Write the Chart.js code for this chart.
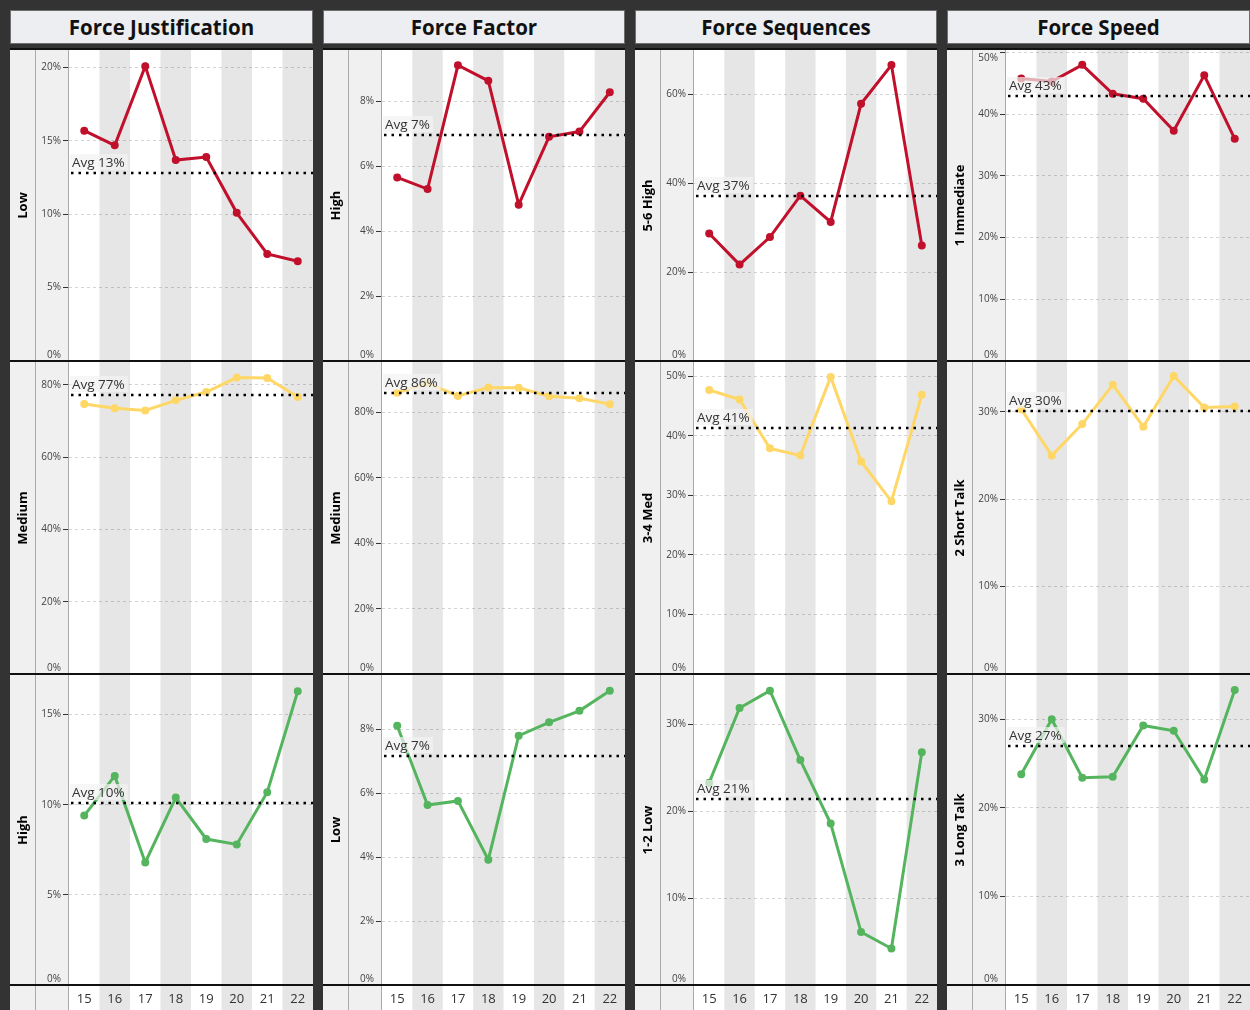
<!DOCTYPE html>
<html>
<head>
<meta charset="utf-8">
<title>Force trends by year</title>
<script src="https://cdn.jsdelivr.net/npm/chart.js@4.4.1/dist/chart.umd.min.js"></script>
<style>
  html, body { margin: 0; padding: 0; }
  body { width: 1250px; height: 1010px; background: #333; position: relative; overflow: hidden; }
  .head {
    position: absolute; top: 10px; height: 34px; box-sizing: border-box;
    background: #eceef1; border: 1px solid #6e6e6e; color: #111;
    font: 700 20.5px "Open Sans", "Noto Sans", sans-serif; line-height: 32px; text-align: center;
  }
  canvas { position: absolute; display: block; }
</style>
</head>
<body>
<script>
// ── Data ──────────────────────────────────────────────────────────────────────
const YEARS   = ["15", "16", "17", "18", "19", "20", "21", "22"];
const COLUMNS = ["Force Justification", "Force Factor", "Force Sequences", "Force Speed"];

// Force Justification (share of incidents, %)
const justLow    = [15.7, 14.7, 20.1, 13.7, 13.9, 10.1, 7.3, 6.8];
const justMedium = [74.7, 73.5, 72.9, 75.7, 78.0, 82.0, 81.9, 76.6];
const justHigh   = [9.4, 11.6, 6.8, 10.4, 8.1, 7.8, 10.7, 16.3];

// Force Factor
const factorHigh   = [5.65, 5.29, 9.10, 8.62, 4.81, 6.90, 7.06, 8.27];
const factorMedium = [86.1, 89.0, 85.1, 87.7, 87.6, 85.0, 84.4, 82.6];
const factorLow    = [8.11, 5.63, 5.76, 3.92, 7.80, 8.22, 8.58, 9.21];

// Force Sequences
const seqHigh = [28.7, 21.7, 27.9, 37.2, 31.3, 57.9, 66.6, 26.0];
const seqMed  = [47.7, 46.1, 37.9, 36.7, 49.9, 35.7, 29.0, 46.9];
const seqLow  = [23.3, 31.9, 33.9, 25.9, 18.6, 6.1, 4.2, 26.8];

// Force Speed
const speedImmediate = [45.8, 45.3, 48.0, 43.3, 42.5, 37.3, 46.3, 36.0];
const speedShortTalk = [30.3, 25.0, 28.6, 33.1, 28.3, 34.1, 30.5, 30.6];
const speedLongTalk  = [23.8, 30.0, 23.4, 23.5, 29.3, 28.7, 23.2, 33.3];

// Averages shown as dotted reference lines (row order per column)
const justAvg   = [12.8, 77.3, 10.1];
const factorAvg = [6.95, 86.1, 7.15];
const seqAvg    = [37.2, 41.3, 21.4];
const speedAvg  = [43.0, 30.1, 27.0];

// Axis ranges and tick steps (row order per column)
const justMax   = [21.2, 86.3, 17.2];
const factorMax = [9.57, 95.5, 9.7];
const seqMax    = [70.0, 52.4, 35.7];
const speedMax  = [50.4, 35.7, 35.0];
const justStep   = [5, 20, 5];
const factorStep = [2, 20, 2];
const seqStep    = [20, 10, 10];
const speedStep  = [10, 10, 10];

const PANELS = [
  { rows: ["Low", "Medium", "High"],                      series: [justLow, justMedium, justHigh],                avg: justAvg,   max: justMax,   step: justStep },
  { rows: ["High", "Medium", "Low"],                      series: [factorHigh, factorMedium, factorLow],          avg: factorAvg, max: factorMax, step: factorStep },
  { rows: ["5-6 High", "3-4 Med", "1-2 Low"],             series: [seqHigh, seqMed, seqLow],                      avg: seqAvg,    max: seqMax,    step: seqStep },
  { rows: ["1 Immediate", "2 Short Talk", "3 Long Talk"], series: [speedImmediate, speedShortTalk, speedLongTalk], avg: speedAvg,  max: speedMax,  step: speedStep },
];

// ── Look ──────────────────────────────────────────────────────────────────────
const FONT       = '"Open Sans", "Noto Sans", sans-serif';
const ROW_COLORS = ["#c0102b", "#ffd766", "#55b55e"];
const COL_LEFT   = [10, 323, 635, 947];
const COL_WIDTH  = [303, 302, 302, 303];
// canvas top / height / padding for each row (row 3 also carries the year strip)
const ROW_BOX = [
  { top: 48,  height: 314, padTop: 2, padBottom: 1, showX: false },
  { top: 362, height: 313, padTop: 0, padBottom: 1, showX: false },
  { top: 675, height: 335, padTop: 0, padBottom: 0, showX: true  },
];

Chart.defaults.font.family = FONT;

// ── Panel decoration: stripes, side strips, average line, separators ─────────
const panelDecor = {
  id: "panelDecor",
  beforeDraw(chart) {
    const { ctx, chartArea: a, scales: { x } } = chart;
    const H = chart.height;
    const half = (x.getPixelForValue(1) - x.getPixelForValue(0)) / 2;
    ctx.save();
    ctx.fillStyle = "#f0f0f0";
    ctx.fillRect(0, 0, a.left, H);
    ctx.fillStyle = "#ffffff";
    ctx.fillRect(a.left, 0, chart.width - a.left, H);
    ctx.fillStyle = "#e6e6e6";
    YEARS.forEach((_, i) => {
      if (i % 2 === 1) {
        const cx = x.getPixelForValue(i);
        ctx.fillRect(cx - half, 0, half * 2, H);
      }
    });
    ctx.restore();
  },
  afterDatasetsDraw(chart, args, opts) {
    const { ctx, chartArea: a, scales: { y } } = chart;
    const py = Math.round(y.getPixelForValue(opts.avg));
    ctx.save();
    ctx.strokeStyle = "#000";
    ctx.lineWidth = 2.5;
    ctx.setLineDash([2.5, 5]);
    ctx.beginPath();
    ctx.moveTo(a.left + 2, py);
    ctx.lineTo(a.right, py);
    ctx.stroke();
    ctx.setLineDash([]);

    const text = `Avg ${Math.round(opts.avg)}%`;
    ctx.font = `13.5px ${FONT}`;
    const w = ctx.measureText(text).width;
    ctx.fillStyle = "rgba(242,242,242,0.7)";
    ctx.fillRect(a.left + 1, py - 19, w + 5, 16);
    ctx.fillStyle = "#333";
    ctx.textBaseline = "alphabetic";
    ctx.fillText(text, a.left + 3, py - 6);
    ctx.restore();
  },
  afterDraw(chart, args, opts) {
    const { ctx, chartArea: a } = chart;
    ctx.save();
    ctx.fillStyle = "#a9a9a9";
    ctx.fillRect(25, 0, 1, chart.height);
    ctx.fillRect(a.left - 1, 0, 1, chart.height);
    ctx.fillStyle = "#111";
    if (opts.topLine) ctx.fillRect(0, 0, chart.width, 2);
    ctx.fillRect(0, a.bottom - 1, chart.width, 2);
    ctx.restore();
  },
};

// Tick labels at the very edges are nudged inside the panel (blank line trick)
function tickLabel(v, max) {
  if (v === 0) return ["0%", ""];
  if ((max - v) / max < 0.02) return ["", `${v}%`];
  return `${v}%`;
}

// ── Build ─────────────────────────────────────────────────────────────────────
function makeChart(canvas, spec) {
  return new Chart(canvas, {
    type: "line",
    data: {
      labels: YEARS,
      datasets: [{
        data: spec.values,
        borderColor: spec.color,
        backgroundColor: spec.color,
        borderWidth: 3,
        pointRadius: 2.5,
        pointHoverRadius: 2.5,
        tension: 0,
      }],
    },
    options: {
      responsive: false,
      animation: false,
      devicePixelRatio: 1,
      layout: { autoPadding: false, padding: { top: spec.padTop, bottom: spec.padBottom, left: 0, right: 0 } },
      plugins: {
        legend: { display: false },
        tooltip: { enabled: false },
        panelDecor: { avg: spec.avg, topLine: spec.padTop > 0 },
      },
      scales: {
        x: {
          display: spec.showX,
          offset: true,
          grid: { display: false, drawTicks: false },
          border: { display: false },
          ticks: { color: "#333", font: { size: 13 }, padding: 6, maxRotation: 0, autoSkip: false },
          afterFit: (s) => {
            if (!spec.showX) return;
            s.height = 25; s.paddingLeft = 0; s.paddingRight = 0;
          },
        },
        y: {
          min: 0,
          max: spec.max,
          afterFit: (s) => { s.width = 59; s.paddingTop = 0; s.paddingBottom = 0; },
          ticks: {
            stepSize: spec.step,
            includeBounds: false,
            color: "#444",
            font: { size: 10 },
            padding: 2,
            callback: (v) => tickLabel(v, spec.max),
          },
          grid: { color: "rgba(0,0,0,0.17)", lineWidth: 1, tickColor: "#333", tickLength: 6, tickBorderDash: [] },
          border: { display: false, dash: [3, 3] },
          title: {
            display: true,
            text: spec.label,
            color: "#000",
            font: { size: 13, weight: "bold" },
            padding: { top: 5, bottom: 0 },
          },
        },
      },
    },
    plugins: [panelDecor],
  });
}

PANELS.forEach((panel, c) => {
  const head = document.createElement("div");
  head.className = "head";
  head.style.left = COL_LEFT[c] + "px";
  head.style.width = COL_WIDTH[c] + "px";
  head.textContent = COLUMNS[c];
  document.body.appendChild(head);

  panel.rows.forEach((label, r) => {
    const box = ROW_BOX[r];
    const cv = document.createElement("canvas");
    cv.width = COL_WIDTH[c];
    cv.height = box.height;
    cv.style.left = COL_LEFT[c] + "px";
    cv.style.top = box.top + "px";
    cv.style.width = COL_WIDTH[c] + "px";
    cv.style.height = box.height + "px";
    document.body.appendChild(cv);

    makeChart(cv, {
      label,
      values: panel.series[r],
      avg: panel.avg[r],
      max: panel.max[r],
      step: panel.step[r],
      color: ROW_COLORS[r],
      padTop: box.padTop,
      padBottom: box.padBottom,
      showX: box.showX,
    });
  });
});
</script>
</body>
</html>
